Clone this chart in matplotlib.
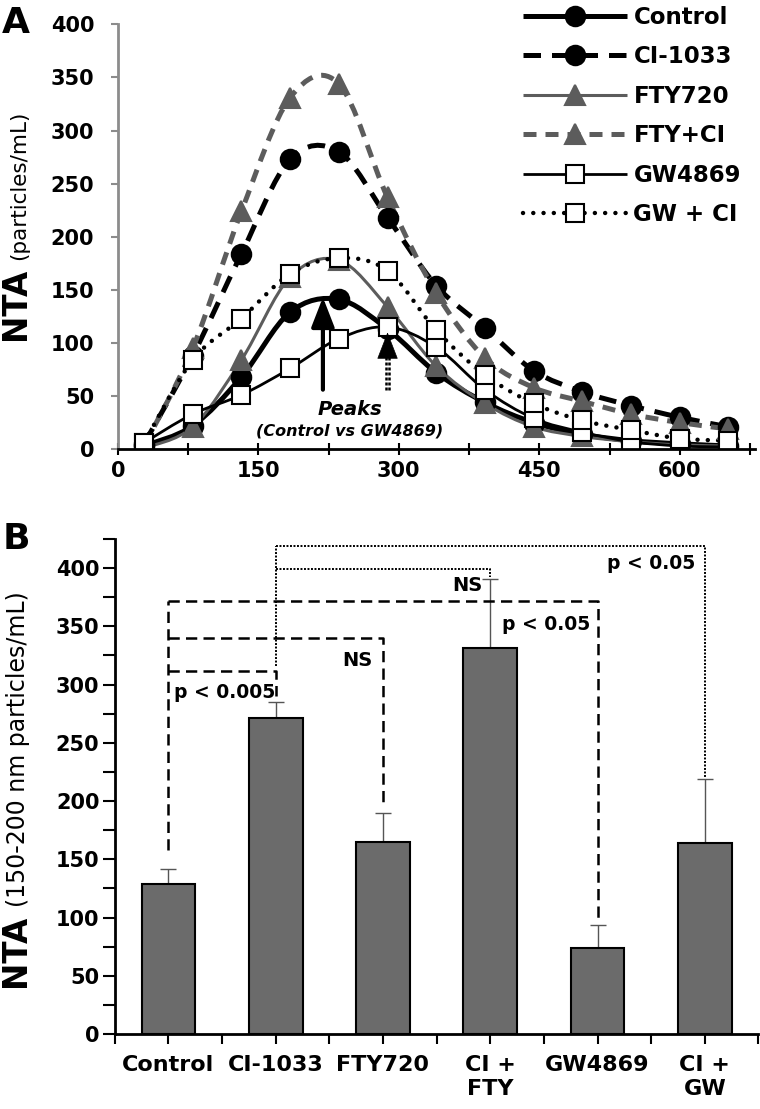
import matplotlib
matplotlib.use("Agg")
import matplotlib.pyplot as plt
import numpy as np
from matplotlib.path import Path
from matplotlib.patches import PathPatch
from matplotlib.lines import Line2D
from matplotlib.ticker import MultipleLocator

plt.rcParams['font.family'] = ['DejaVu Sans']
plt.rcParams['font.weight'] = 'bold'

# ---- Panel A: particle size distribution (NTA) ----
size_nm = [28, 80, 132, 184, 236, 288, 340, 392, 444, 496, 548, 600, 652]
control = [3, 22, 68, 129, 141, 113, 72, 44, 25, 14, 8, 5, 3]
ci1033 = [5, 88, 184, 273, 280, 218, 154, 114, 74, 54, 41, 30, 21]
fty720 = [1, 21, 84, 162, 178, 134, 78, 43, 21, 12, 7, 4, 3]
fty_ci = [3, 95, 224, 331, 344, 237, 147, 86, 58, 45, 33, 25, 19]
gw4869 = [6, 33, 51, 76, 104, 115, 96, 56, 29, 16, 7, 3, 2]
gw_ci = [6, 84, 123, 165, 180, 168, 112, 70, 43, 27, 18, 10, 8]
peak_control = 219
peak_gw = 288

# ---- Panel B: 150-200 nm particles ----
groups = ['Control', 'CI-1033', 'FTY720', 'CI +\nFTY', 'GW4869', 'CI +\nGW']
nta = [129, 271, 165, 331, 74, 164]
sem = [13, 14, 25, 60, 20, 55]

GREY = '#5c5c5c'
series = [
    ('Control', control, dict(color='black', lw=3.6, ls='-', marker='o', mfc='black', ms=14)),
    ('CI-1033', ci1033, dict(color='black', lw=3.6, ls=(0, (3.5, 2.2)), marker='o', mfc='black', ms=14)),
    ('FTY720', fty720, dict(color=GREY, lw=2.2, ls='-', marker='^', mfc=GREY, ms=14)),
    ('FTY+CI', fty_ci, dict(color=GREY, lw=3.6, ls=(0, (2.6, 1.8)), marker='^', mfc=GREY, ms=14)),
    ('GW4869', gw4869, dict(color='black', lw=2.0, ls='-', marker='s', mfc='white', ms=13)),
    ('GW + CI', gw_ci, dict(color='black', lw=3.2, ls=(0, (0.01, 2.3)), marker='s', mfc='white', ms=13)),
]


def smooth_path(x, y):
    # Excel-like smoothed line: Catmull-Rom segments as cubic Bezier curves
    pts = np.column_stack([x, y]).astype(float)
    n = len(pts)
    verts = [pts[0]]
    codes = [Path.MOVETO]
    for i in range(n - 1):
        p0 = pts[max(i - 1, 0)]
        p1 = pts[i]
        p2 = pts[i + 1]
        p3 = pts[min(i + 2, n - 1)]
        verts += [p1 + (p2 - p0) / 6, p2 - (p3 - p1) / 6, p2]
        codes += [Path.CURVE4] * 3
    return Path(verts, codes)


def ylabel(x_px, start_px, big, small, big_size, small_size, gap_px=8):
    # rotated label: bold "NTA" then normal-weight units, reading bottom to top
    t = fig.text(x_px / 760, 1 - start_px / 1109, big, rotation=90, rotation_mode='anchor',
                 ha='left', va='baseline', fontsize=big_size)
    fig.canvas.draw()
    h = t.get_window_extent().height
    fig.text(x_px / 760, 1 - (start_px - h - gap_px) / 1109, small, rotation=90,
             rotation_mode='anchor', ha='left', va='baseline', fontsize=small_size,
             fontweight='normal')


fig = plt.figure(figsize=(7.6, 11.09), dpi=100)
axA = fig.add_axes([0.155, 0.595, 0.838, 0.383])
axB = fig.add_axes([0.151, 0.0676, 0.847, 0.4464])

handles = []
for name, vals, st in series:
    round_dots = name == 'GW + CI'
    patch = PathPatch(smooth_path(size_nm, vals), fill=False, edgecolor=st['color'],
                      lw=st['lw'], linestyle=st['ls'], capstyle='round' if round_dots else 'butt')
    axA.add_patch(patch)
    mec = 'black' if st['mfc'] == 'white' else st['color']
    axA.plot(size_nm, vals, ls='none', marker=st['marker'], ms=st['ms'],
             mfc=st['mfc'], mec=mec, mew=1.5)
    handles.append(Line2D([], [], color=st['color'], lw=st['lw'], ls=st['ls'],
                          marker=st['marker'], ms=st['ms'], mfc=st['mfc'], mec=mec,
                          mew=1.5, solid_capstyle='butt',
                          dash_capstyle='round' if round_dots else 'butt'))

# peak arrows
head = '-|>,head_length=0.9,head_width=0.35'
axA.annotate('', xy=(peak_control, 143), xytext=(peak_control, 56),
             arrowprops=dict(arrowstyle=head, mutation_scale=20, lw=3, color='black',
                             shrinkA=0, shrinkB=0))
for dx in (-2, 2):
    axA.plot([peak_gw + dx, peak_gw + dx], [56, 96], color='black', lw=1.8, ls=(0, (1.2, 0.8)))
axA.annotate('', xy=(peak_gw, 110), xytext=(peak_gw, 94),
             arrowprops=dict(arrowstyle=head, mutation_scale=20, lw=0.5, color='black',
                             shrinkA=0, shrinkB=0))
axA.text(248, 37, 'Peaks', ha='center', va='center', fontsize=14, style='italic')
axA.text(247, 17, '(Control vs GW4869)', ha='center', va='center', fontsize=11.5,
         style='italic')

axA.set_xlim(0, 680)
axA.set_ylim(0, 400)
axA.xaxis.set_major_locator(MultipleLocator(150))
axA.xaxis.set_minor_locator(MultipleLocator(75))
axA.yaxis.set_major_locator(MultipleLocator(50))
axA.spines['top'].set_visible(False)
axA.spines['right'].set_visible(False)
axA.spines['left'].set_color('#8c8c8c')
axA.spines['left'].set_linewidth(2)
axA.spines['bottom'].set_linewidth(2)
axA.tick_params(axis='y', which='both', direction='out', length=5, width=1.5,
                color='#8c8c8c', labelsize=15, pad=12)
axA.tick_params(axis='x', which='both', direction='inout', length=9, width=1.5,
                labelsize=15, pad=4)
axA.legend(handles=handles, labels=[s[0] for s in series], loc='upper right',
           bbox_to_anchor=(0.99, 1.005), bbox_transform=fig.transFigure, frameon=False,
           fontsize=16.5, handlelength=4.5, handletextpad=0.3, labelspacing=0.72,
           borderpad=0, numpoints=1)

ylabel(25, 340, 'NTA', '(particles/mL)', 23.5, 15.5)
fig.text(0.003, 1 - 6 / 1109, 'A', ha='left', va='top', fontsize=26)

# ---- Panel B ----
x = np.arange(len(groups))
axB.bar(x, nta, width=0.5, color='#6b6b6b', edgecolor='black', lw=1.5, zorder=2)
axB.errorbar(x, nta, yerr=[np.zeros(len(sem)), sem], fmt='none', ecolor='#555555',
             elinewidth=1, capsize=6, capthick=1, zorder=1)

dash = dict(color='black', lw=1.8, ls=(0, (4.5, 2.5)))
dot = dict(color='black', lw=1.4, ls=(0, (1, 0.8)))
# Control vs CI-1033 / FTY720 / GW4869
axB.plot([0, 0], [158, 372], **dash)
for xj, top, foot in [(1, 312, 290), (2, 340, 195), (4, 372, 98)]:
    axB.plot([0, xj, xj], [top, top, foot], **dash)
# CI-1033 vs CI+FTY / CI+GW
axB.plot([1, 1], [316, 419], **dot)
for xj, top, foot in [(3, 399, 392), (5, 419, 221)]:
    axB.plot([1, xj, xj], [top, top, foot], **dot)

axB.text(0.52, 293, 'p < 0.005', ha='center', va='center', fontsize=13.5)
axB.text(1.76, 321, 'NS', ha='center', va='center', fontsize=14)
axB.text(3.52, 352, 'p < 0.05', ha='center', va='center', fontsize=13.5)
axB.text(2.79, 385, 'NS', ha='center', va='center', fontsize=14)
axB.text(4.5, 404, 'p < 0.05', ha='center', va='center', fontsize=13.5)

axB.set_xlim(-0.5, 5.5)
axB.set_ylim(0, 425)
axB.set_xticks(x)
axB.set_xticklabels(groups, fontsize=16, linespacing=1.25)
axB.set_xticks(np.arange(-0.5, 5.6, 1), minor=True)
axB.yaxis.set_major_locator(MultipleLocator(50))
axB.yaxis.set_minor_locator(MultipleLocator(25))
axB.spines['top'].set_visible(False)
axB.spines['right'].set_visible(False)
axB.spines['left'].set_linewidth(2)
axB.spines['bottom'].set_linewidth(2)
axB.tick_params(axis='y', which='both', direction='out', length=9, width=1.5,
                labelsize=15, pad=2)
axB.tick_params(axis='x', which='both', direction='out', length=7, width=1.5, pad=8)

ylabel(25, 987, 'NTA', '(150-200 nm particles/mL)', 23.5, 17)
fig.text(0.003, 1 - 522 / 1109, 'B', ha='left', va='top', fontsize=26)

fig.savefig('out.png', dpi=100)
